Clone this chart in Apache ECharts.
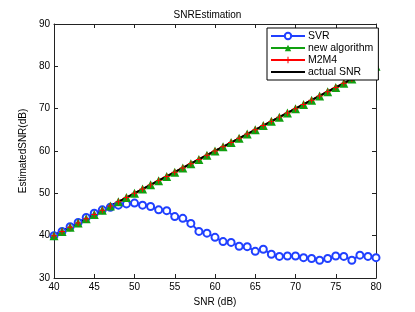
<!DOCTYPE html>
<html><head><meta charset="utf-8">
<script src="https://cdn.jsdelivr.net/npm/echarts@6/dist/echarts.min.js"></script>
<style>html,body{margin:0;padding:0;background:#fff}#c{width:415px;height:312px}</style>
</head><body><div id="c"></div>
<script>
var snr = [40,41,42,43,44,45,46,47,48,49,50,51,52,53,54,55,56,57,58,59,60,61,62,63,64,65,66,67,68,69,70,71,72,73,74,75,76,77,78,79,80];
var svr = [40.0,41.0,42.1,43.1,44.3,45.3,46.1,46.7,47.2,47.5,47.7,47.2,46.9,46.1,45.9,44.5,44.1,42.9,41.0,40.6,39.6,38.6,38.4,37.5,37.4,36.3,36.8,35.6,35.1,35.2,35.2,34.8,34.6,34.2,34.6,35.2,35.1,34.2,35.4,35.1,34.8];
var newAlg = [40,41,42,43,44,45,46,47,48,49,50,51,52,53,54,55,56,57,58,59,60,61,62,63,64,65,66,67,68,69,70,71,72,73,74,75,76,77,78,79,80];
var m2m4 = [40,41,42,43,44,45,46,47,48,49,50,51,52,53,54,55,56,57,58,59,60,61,62,63,64,65,66,67,68,69,70,71,72,73,74,75,76,77,78,79,80];
var actual = [40,41,42,43,44,45,46,47,48,49,50,51,52,53,54,55,56,57,58,59,60,61,62,63,64,65,66,67,68,69,70,71,72,73,74,75,76,77,78,79,80];
var xTicks = {min:40, max:80, interval:5};
var yTicks = {min:30, max:90, interval:10};

function pairs(ys){ return snr.map(function(x,i){ return [x, ys[i]]; }); }
var font = 'Liberation Sans, Arial, sans-serif';
var plus = 'path://M-0.8,-5 H0.8 V-0.8 H5 V0.8 H0.8 V5 H-0.8 V0.8 H-5 V-0.8 H-0.8 Z';
var chart = echarts.init(document.getElementById('c'), null, {renderer:'canvas'});
var axLine = {show:true, lineStyle:{color:'#222', width:1}};
var tick = {show:true, inside:true, length:4, lineStyle:{color:'#222'}};
chart.setOption({
  animation:false,
  backgroundColor:'#fff',
  title:{text:'SNREstimation', left:'center', top:5, textStyle:{fontFamily:font, fontSize:10, fontWeight:'normal', color:'#000'}},
  grid:{left:54, right:39, top:24, bottom:34},
  legend:{
    left:267, top:28, orient:'vertical', padding:[2,5,2,3], itemGap:0,
    itemWidth:34, itemHeight:8,
    borderColor:'#000', borderWidth:1, backgroundColor:'#fff', borderRadius:0,
    textStyle:{fontFamily:font, fontSize:10.5, color:'#000', padding:[0,0,0,-2], lineHeight:12},
    data:['SVR','new algorithm','M2M4',{name:'actual SNR', itemStyle:{opacity:0}}]
  },
  xAxis:[
    {type:'value', min:xTicks.min, max:xTicks.max, interval:xTicks.interval,
     name:'SNR (dB)', nameLocation:'middle', nameGap:17,
     nameTextStyle:{fontFamily:font, fontSize:10, color:'#000'},
     axisLine:axLine, axisTick:tick, splitLine:{show:false},
     axisLabel:{fontFamily:font, fontSize:10, color:'#000', margin:4}},
    {type:'value', position:'top', min:xTicks.min, max:xTicks.max, interval:xTicks.interval,
     axisLine:axLine, axisTick:tick, splitLine:{show:false}, axisLabel:{show:false}}
  ],
  yAxis:[
    {type:'value', min:yTicks.min, max:yTicks.max, interval:yTicks.interval,
     name:'EstimatedSNR(dB)', nameLocation:'middle', nameGap:18,
     nameTextStyle:{fontFamily:font, fontSize:10, color:'#000'},
     axisLine:axLine, axisTick:tick, splitLine:{show:false},
     axisLabel:{fontFamily:font, fontSize:10, color:'#000', margin:4}},
    {type:'value', position:'right', min:yTicks.min, max:yTicks.max, interval:yTicks.interval,
     axisLine:axLine, axisTick:tick, splitLine:{show:false}, axisLabel:{show:false}}
  ],
  series:[
    {name:'SVR', type:'line', data:pairs(svr), symbol:'emptyCircle', symbolSize:7,
     color:'#2040ff', lineStyle:{color:'#2040ff', width:2},
     itemStyle:{color:'#2040ff', borderColor:'#2040ff', borderWidth:2}},
    {name:'new algorithm', type:'line', data:pairs(newAlg), symbol:'triangle', symbolSize:9,
     color:'#10a010', lineStyle:{color:'#10a010', width:2}, itemStyle:{color:'#10a010'}},
    {name:'M2M4', type:'line', data:pairs(m2m4), symbol:plus, symbolSize:6,
     color:'#ff0000', lineStyle:{color:'#ff0000', width:2}, itemStyle:{color:'#ff0000'}},
    {name:'actual SNR', type:'line', data:pairs(actual), symbol:'none', showSymbol:false,
     color:'#000', lineStyle:{color:'#000', width:2}}
  ]
});
</script></body></html>
